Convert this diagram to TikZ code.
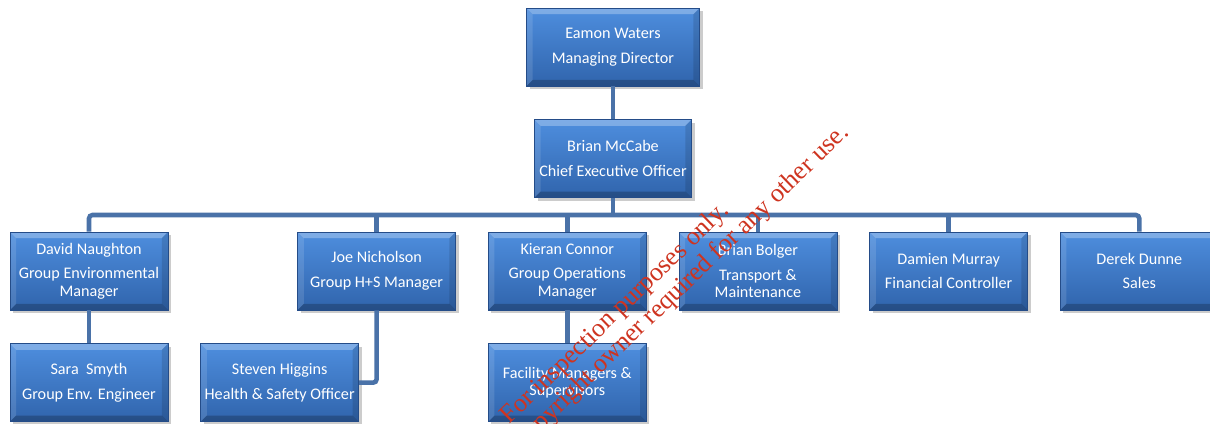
\documentclass[tikz,border=0pt]{standalone}
\usepackage{fontspec}
\setmainfont{Carlito}
\newfontfamily\wmfont{Liberation Serif}
\usetikzlibrary{positioning,shadows}

\definecolor{boxtop}{RGB}{78,142,222}
\definecolor{boxbot}{RGB}{48,100,172}
\definecolor{boxedge}{RGB}{36,76,136}
\definecolor{linkblue}{RGB}{74,114,168}
\definecolor{wmred}{RGB}{206,52,32}

\newcommand{\orgfont}{\fontsize{9.2}{9.8}\selectfont}

\tikzset{
  orgbox/.style={rectangle, draw=boxedge, line width=0.4pt,
    top color=boxtop, bottom color=boxbot,
    minimum width=3.16cm, minimum height=1.56cm, inner sep=1pt,
    align=center, text=white, font=\orgfont,
    drop shadow={opacity=0.4, shadow xshift=1.8pt, shadow yshift=-1.8pt},
    path picture={
      \coordinate (pnw) at (path picture bounding box.north west);
      \coordinate (pne) at (path picture bounding box.north east);
      \coordinate (psw) at (path picture bounding box.south west);
      \coordinate (pse) at (path picture bounding box.south east);
      \fill[white, opacity=0.28] (pnw) -- (pne) -- ([xshift=-3.5pt,yshift=-3.5pt]pne) -- ([xshift=3.5pt,yshift=-3.5pt]pnw) -- cycle;
      \fill[white, opacity=0.12] (pnw) -- (psw) -- ([xshift=3.5pt,yshift=3.5pt]psw) -- ([xshift=3.5pt,yshift=-3.5pt]pnw) -- cycle;
      \fill[black, opacity=0.22] (psw) -- (pse) -- ([xshift=-3.5pt,yshift=3.5pt]pse) -- ([xshift=3.5pt,yshift=3.5pt]psw) -- cycle;
      \fill[black, opacity=0.12] (pne) -- (pse) -- ([xshift=-3.5pt,yshift=3.5pt]pse) -- ([xshift=-3.5pt,yshift=-3.5pt]pne) -- cycle;
    }},
  link/.style={draw=linkblue, line width=2.6pt, rounded corners=2pt},
  stamp/.style={text=wmred, font=\wmfont\fontsize{14.8}{16}\selectfont, rotate=44, anchor=base east, inner sep=0pt}
}

\begin{document}
\begin{tikzpicture}[x=0.02cm, y=-0.02cm]
\useasboundingbox (0,0) rectangle (1210,423);
\clip (0,0) rectangle (1210,423);

% top of the chart
\node[orgbox, minimum width=3.46cm] (md) at (613,47) {Eamon Waters\\[4.2pt]Managing Director};
\node[orgbox, minimum width=3.14cm, below=0.66cm of md] (ceo) {Brian McCabe\\[4.2pt]Chief Executive Officer};

% managers
\node[orgbox] (env) at (89,271) {David Naughton\\[4.2pt]Group Environmental\\Manager};
\node[orgbox, right=2.58cm of env] (hs) {Joe Nicholson\\[4.2pt]Group H+S Manager};
\node[orgbox, right=0.64cm of hs] (ops) {Kieran Connor\\[4.2pt]Group Operations\\Manager};
\node[orgbox, right=0.64cm of ops] (tm) {Brian Bolger\\[4.2pt]Transport \&\\Maintenance};
\node[orgbox, right=0.64cm of tm] (fin) {Damien Murray\\[4.2pt]Financial Controller};
\node[orgbox, right=0.64cm of fin] (sales) {Derek Dunne\\[4.2pt]Sales};

% staff
\node[orgbox, below=0.66cm of env] (eng) {Sara~ Smyth\\[4.2pt]Group Env. Engineer};
\node[orgbox, below=0.66cm of hs, xshift=-1.94cm] (hso) {Steven Higgins\\[4.2pt]Health \& Safety Officer};
\node[orgbox, below=0.66cm of ops] (fac) {Facility Managers \&\\Supervisors};

\coordinate (bus) at (0,215);

\draw[link] (md) -- (ceo);
\draw[link] (ceo.south) -- (ceo.south |- bus);
\draw[link] (env.north) -- (env.north |- bus) -- (sales.north |- bus) -- (sales.north);
\foreach \n in {hs,ops,tm,fin}
  \draw[link] (\n.north) -- (\n.north |- bus);
\draw[link] (env) -- (eng);
\draw[link] (ops) -- (fac);
\draw[link] (hs.south) |- (hso.east);

% watermark
\node[stamp] (wm1) at (730,212) {For inspection purposes only.};
\node[stamp] (wm2) at (850,134) {Consent of copyright owner required for any other use.};
\end{tikzpicture}
\end{document}
